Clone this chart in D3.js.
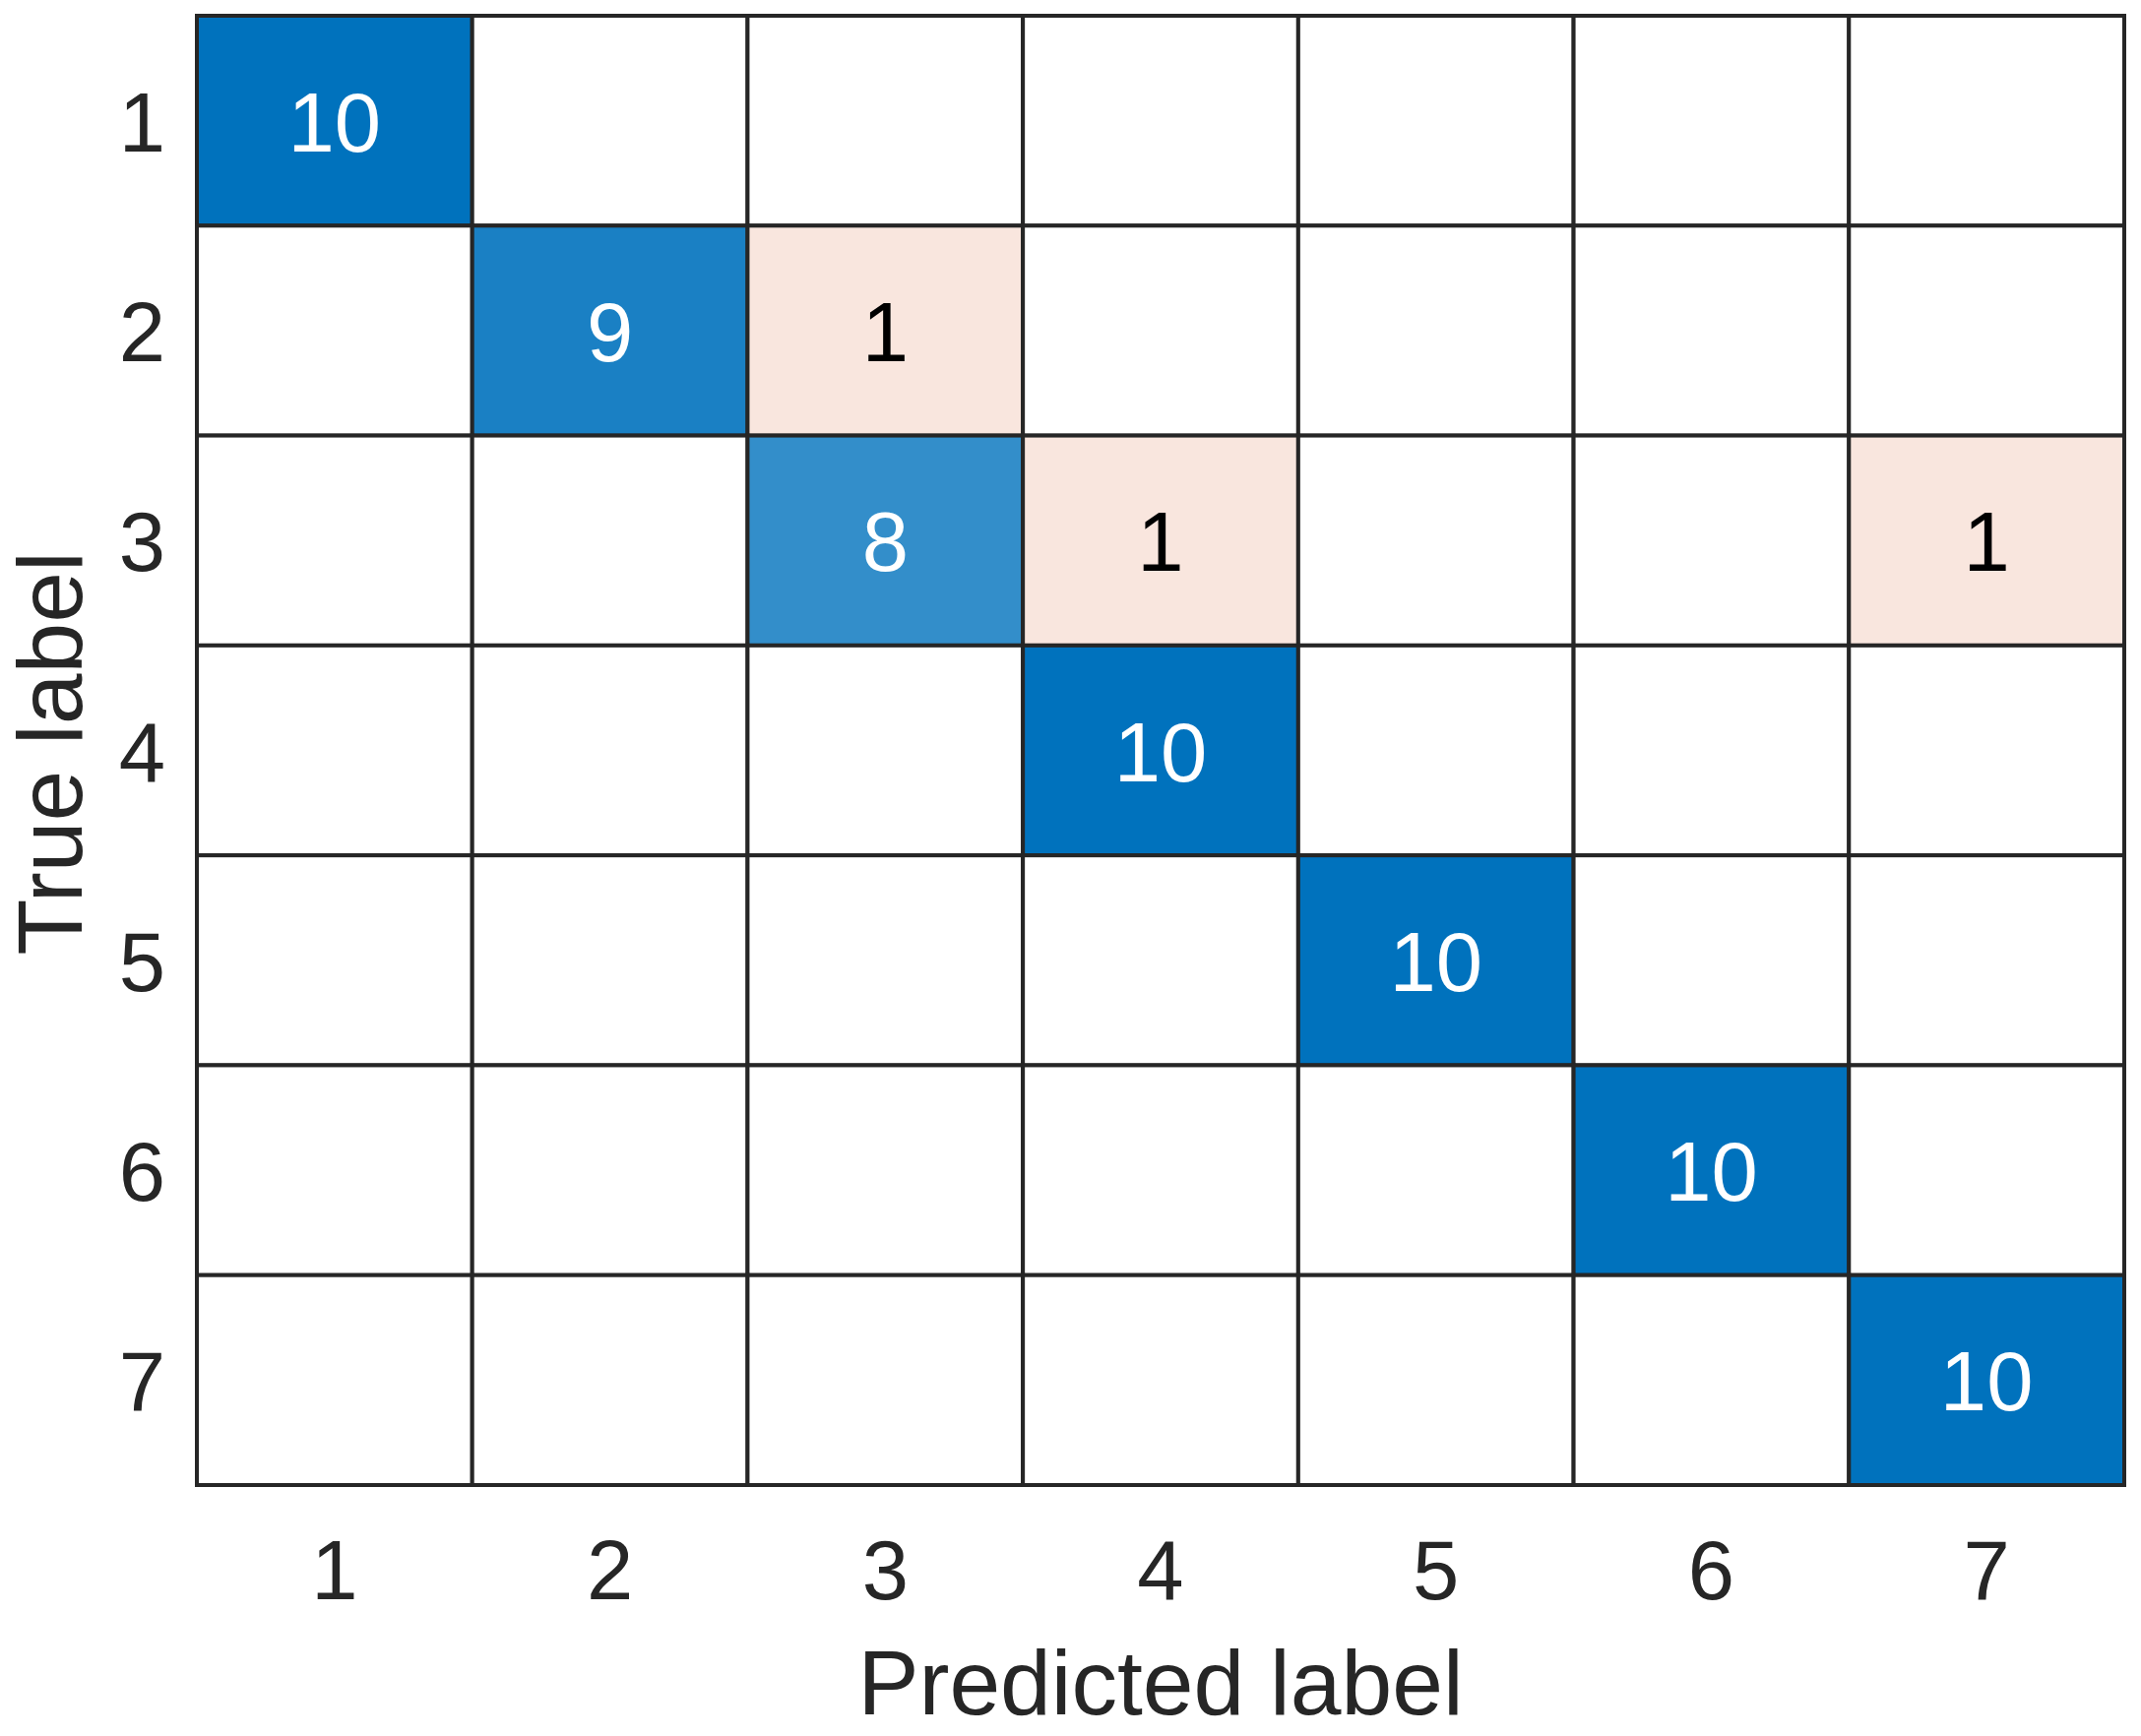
<!DOCTYPE html>
<html>
<head>
<meta charset="utf-8">
<script src="https://cdn.jsdelivr.net/npm/d3@7"></script>
<style>
  html, body { margin: 0; padding: 0; background: #fff; }
  svg text { font-family: "Liberation Sans", Arial, sans-serif; }
</style>
</head>
<body>
<svg id="chart" width="2175" height="1764"></svg>
<script>
// class labels (true on rows, predicted on columns)
const classes = ["1", "2", "3", "4", "5", "6", "7"];

// confusion counts, rows = true label, cols = predicted label (0 = empty cell)
const counts = [
  [10, 0, 0, 0, 0, 0, 0],
  [0, 9, 1, 0, 0, 0, 0],
  [0, 0, 8, 1, 0, 0, 1],
  [0, 0, 0, 10, 0, 0, 0],
  [0, 0, 0, 0, 10, 0, 0],
  [0, 0, 0, 0, 0, 10, 0],
  [0, 0, 0, 0, 0, 0, 10],
];

const xTitle = "Predicted label";
const yTitle = "True label";

const svg = d3.select("#chart");
const margin = { top: 16, right: 17, bottom: 255, left: 200 };
const W = 2175, H = 1764;
const ink = "#262626";
const numSize = 85;

const x = d3.scaleBand().domain(classes).range([margin.left, W - margin.right]);
const y = d3.scaleBand().domain(classes).range([margin.top, H - margin.bottom]);

// diagonal -> blue, off-diagonal -> orange (MATLAB confusionchart look)
const diagColor = d3.scaleLinear().domain([0, 10]).range(["#ffffff", "#0072BD"]);
const offColor = d3.scaleLinear().domain([0, 6.9]).range(["#ffffff", "#D95319"]).clamp(true);

const cells = [];
counts.forEach((row, i) => {
  row.forEach((v, j) => {
    cells.push({ t: classes[i], p: classes[j], v, diag: i === j });
  });
});

svg.append("g")
  .selectAll("rect")
  .data(cells)
  .join("rect")
  .attr("x", d => x(d.p))
  .attr("y", d => y(d.t))
  .attr("width", x.bandwidth())
  .attr("height", y.bandwidth())
  .attr("fill", d => d.v === 0 ? "#ffffff" : (d.diag ? diagColor(d.v) : offColor(d.v)))
  .attr("stroke", ink)
  .attr("stroke-width", 4);

svg.append("g")
  .selectAll("text")
  .data(cells.filter(d => d.v > 0))
  .join("text")
  .attr("x", d => x(d.p) + x.bandwidth() / 2)
  .attr("y", d => y(d.t) + y.bandwidth() / 2 + 31)
  .attr("text-anchor", "middle")
  .attr("font-size", numSize)
  .attr("fill", d => d.diag ? "#ffffff" : "#000000")
  .text(d => d.v);

// x tick labels
svg.append("g")
  .selectAll("text")
  .data(classes)
  .join("text")
  .attr("x", d => x(d) + x.bandwidth() / 2)
  .attr("y", 1625)
  .attr("text-anchor", "middle")
  .attr("font-size", numSize)
  .attr("fill", ink)
  .text(d => d);

// y tick labels
svg.append("g")
  .selectAll("text")
  .data(classes)
  .join("text")
  .attr("x", 168)
  .attr("y", d => y(d) + y.bandwidth() / 2 + 31)
  .attr("text-anchor", "end")
  .attr("font-size", numSize)
  .attr("fill", ink)
  .text(d => d);

// axis titles
svg.append("text")
  .attr("x", (margin.left + W - margin.right) / 2)
  .attr("y", 1742)
  .attr("text-anchor", "middle")
  .attr("font-size", 93)
  .attr("fill", ink)
  .text(xTitle);

svg.append("text")
  .attr("transform", `translate(83, ${(margin.top + H - margin.bottom) / 2 + 3}) rotate(-90)`)
  .attr("text-anchor", "middle")
  .attr("font-size", 93)
  .attr("fill", ink)
  .text(yTitle);
</script>
</body>
</html>
